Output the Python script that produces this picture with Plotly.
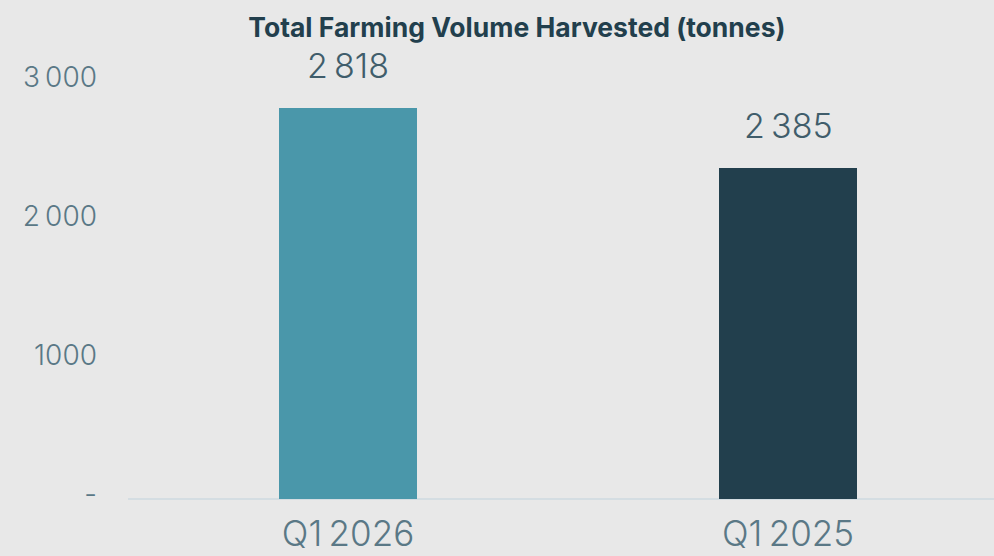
import plotly.graph_objects as go

categories = ["Q1\u20092026", "Q1\u20092025"]
values = [2818, 2385]
bar_colors = ["#4a97aa", "#223f4d"]
value_labels = ["2\u2009818", "2\u2009385"]
tick_vals = [0, 1000, 2000, 3000]
tick_text = ["-", "1000", "2\u2009000", "3\u2009000"]

fig = go.Figure()
fig.add_trace(go.Bar(
    x=categories, y=values,
    marker=dict(color=bar_colors, line=dict(width=0)),
    width=0.314,
))
for c, v, t in zip(categories, values, value_labels):
    fig.add_annotation(x=c, y=v, text=t, showarrow=False,
                       yanchor="bottom", yshift=20,
                       font=dict(family="Inter", size=34, color="#405d6b", weight=300))
fig.update_layout(
    width=994, height=556,
    paper_bgcolor="#e8e8e8", plot_bgcolor="#e8e8e8",
    margin=dict(l=128, r=0, t=60, b=57),
    showlegend=False,
    bargap=0,
    title=dict(text="<b>Total Farming Volume Harvested (tonnes)</b>",
               x=0.52, xanchor="center", y=0.951, yanchor="middle",
               font=dict(family="Inter", size=26.5, color="#223f4d")),
    xaxis=dict(range=[-0.5, 1.468], showgrid=False, zeroline=False,
               showline=False, ticks="", ticklabelstandoff=11, automargin=False,
               tickfont=dict(family="Inter", size=35, color="#5a7886", weight=300)),
    yaxis=dict(range=[0, 3160], tickvals=tick_vals, ticktext=tick_text,
               showgrid=False, zeroline=True, zerolinecolor="#d4dde2",
               zerolinewidth=2, showline=False, ticks="", automargin=False,
               ticklabelstandoff=30, ticklabelshift=-5,
               tickfont=dict(family="Inter", size=28, color="#5a7886", weight=300)),
)
fig.write_html("out.html")
